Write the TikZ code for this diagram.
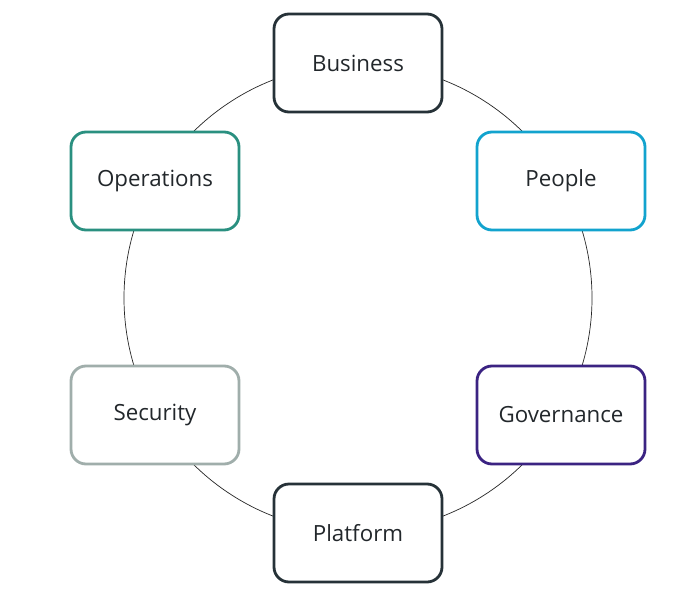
\documentclass[tikz,border=0pt]{standalone}
\usepackage{fontspec}
\setmainfont{Open Sans}
\definecolor{cdark}{HTML}{263238}
\definecolor{cpeople}{HTML}{12A3CE}
\definecolor{cops}{HTML}{2A9080}
\definecolor{csec}{HTML}{A0AEAB}
\definecolor{cgov}{HTML}{3B2382}
\definecolor{ctext}{HTML}{22272B}
\begin{document}
\begin{tikzpicture}[x=1pt,y=-1pt,
  box/.style={draw, line width=2.8pt, rounded corners=15pt, fill=white,
    minimum width=168pt, minimum height=98pt, inner sep=0pt,
    font=\fontsize{22.3}{26}\selectfont, text=ctext}]
\useasboundingbox[fill=white] (0,0) rectangle (692,596);
\draw[line width=0.7pt, color=black!85] (358,298) circle[radius=234];
\node[box, draw=cdark] (business) at (358,63) {Business};
\node[box, draw=cpeople] (people) at (561,181) {People};
\node[box, draw=cops] (operations) at (155,181) {Operations};
\node[box, draw=csec] (security) at (155,415) {Security};
\node[box, draw=cgov] (governance) at (561,415) {Governance};
\node[box, draw=cdark] (platform) at (358,533) {Platform};
\end{tikzpicture}
\end{document}
